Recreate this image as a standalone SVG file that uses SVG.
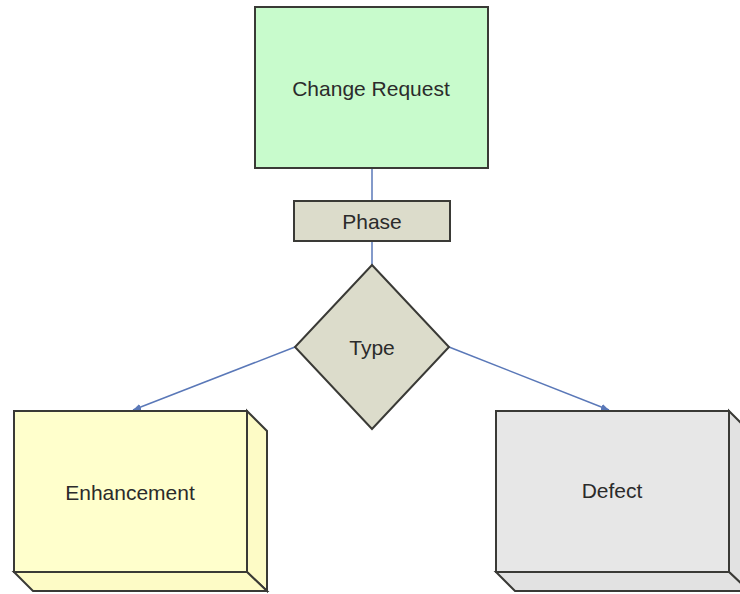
<svg xmlns="http://www.w3.org/2000/svg" width="740" height="594" viewBox="0 0 740 594">
  <style>
    .lbl { font-family: "Liberation Sans", Arial, sans-serif; font-size: 21px; text-anchor: middle; dominant-baseline: central; fill: #2b2b2b; }
    .box { stroke: #3a3a36; stroke-width: 2; stroke-linejoin: miter; }
    .edge { stroke: #5a78b8; stroke-width: 1.5; fill: none; }
  </style>
  <defs>
    <marker id="arrow" viewBox="0 0 10 10" refX="10" refY="5" markerWidth="8" markerHeight="8" orient="auto" markerUnits="userSpaceOnUse">
      <path d="M0,1 L10,5 L0,9 Z" fill="#5a78b8"/>
    </marker>
  </defs>
  <rect width="740" height="594" fill="#ffffff"/>

  <g id="connectors">
    <line class="edge" x1="372" y1="168" x2="372" y2="201"/>
    <line class="edge" x1="372" y1="241" x2="372" y2="265"/>
    <line class="edge" x1="295" y1="347" x2="133" y2="410" marker-end="url(#arrow)"/>
    <line class="edge" x1="449" y1="347" x2="609" y2="410" marker-end="url(#arrow)"/>
  </g>

  <g id="change-request">
    <rect class="box" x="255" y="7" width="233" height="161" fill="#c8fbcc"/>
    <text class="lbl" x="371" y="88" fill="#1f3a22">Change Request</text>
  </g>

  <g id="phase">
    <rect class="box" x="294" y="201" width="156" height="40" fill="#dcdccb"/>
    <text class="lbl" x="372" y="221">Phase</text>
  </g>

  <g id="type">
    <polygon class="box" points="372,265 449,347 372,429 295,347" fill="#dcdccb"/>
    <text class="lbl" x="372" y="347">Type</text>
  </g>

  <g id="enhancement">
    <polygon class="box" points="247,411 267,431 267,591 247,572" fill="#fdfbc6"/>
    <polygon class="box" points="14,572 247,572 267,591 33,591" fill="#fdfbc6"/>
    <rect class="box" x="14" y="411" width="233" height="161" fill="#ffffcc"/>
    <text class="lbl" x="130" y="492">Enhancement</text>
  </g>

  <g id="defect">
    <polygon class="box" points="729,411 749,431 749,591 729,572" fill="#e2e2e2"/>
    <polygon class="box" points="496,572 729,572 749,591 515,591" fill="#e2e2e2"/>
    <rect class="box" x="496" y="411" width="233" height="161" fill="#e7e7e7"/>
    <text class="lbl" x="612" y="490">Defect</text>
  </g>
</svg>
